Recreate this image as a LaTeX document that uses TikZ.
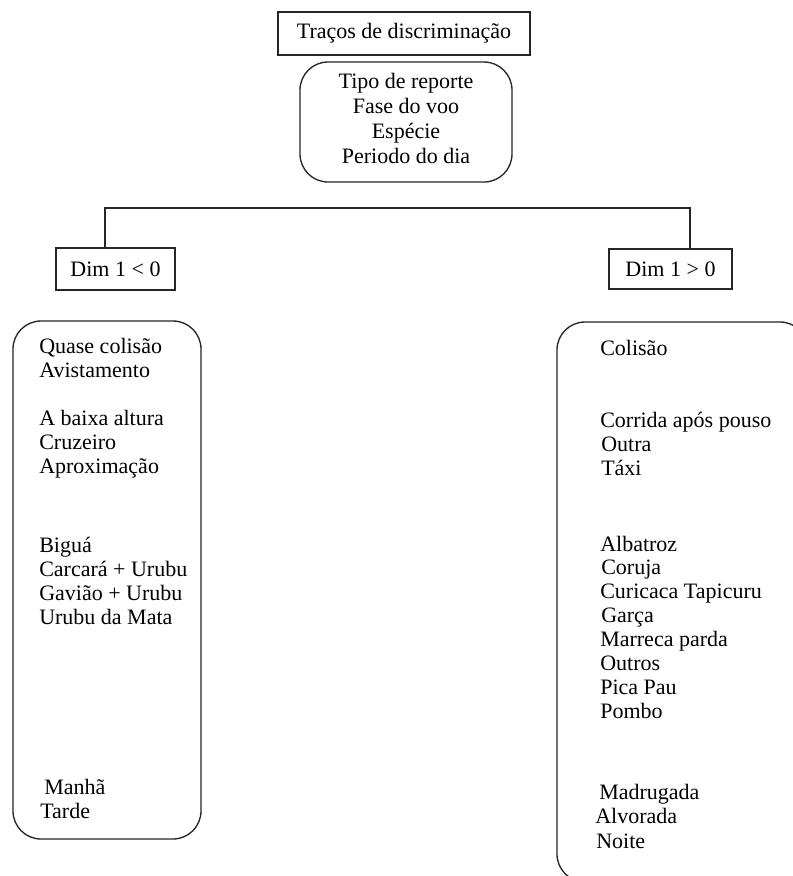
\documentclass[tikz,border=0pt]{standalone}
\usepackage{fontspec}
\setmainfont{Liberation Serif}
\begin{document}
\begin{tikzpicture}[x=0.75pt,y=-0.75pt,
  every node/.style={font=\fontsize{16.5}{18}\selectfont},
  frame/.style={draw=black!85,line width=1pt,rectangle,inner sep=0pt},
  rbox/.style={draw=black!85,line width=1pt,rectangle,rounded corners=21pt,inner sep=0pt},
  lbl/.style={anchor=base west,inner sep=0pt},
  clbl/.style={anchor=base,inner sep=0pt},
  conn/.style={draw=black!85,line width=1pt}]
\useasboundingbox (0,0) rectangle (793,876);
\clip (0,0) rectangle (793,876);
\fill[white] (0,0) rectangle (793,876);

% title
\node[frame,minimum width=252*0.75pt,minimum height=43*0.75pt] (title) at (404,33.5) {Traços de discriminação};
% features box
\node[rbox,minimum width=212*0.75pt,minimum height=120*0.75pt] (feat) at (406,122) {};
\node[clbl] (f1) at (406,88) {Tipo de reporte};
\node[clbl] (f2) at (406,113) {Fase do voo};
\node[clbl] (f3) at (406,138) {Espécie};
\node[clbl] (f4) at (406,163) {Periodo do dia};

% dimension boxes
\node[frame,minimum width=119*0.75pt,minimum height=42*0.75pt] (dl) at (115.5,269) {Dim 1 < 0};
\node[frame,minimum width=123*0.75pt,minimum height=40*0.75pt] (dr) at (670.5,269) {Dim 1 > 0};
\coordinate (jl) at (105,208);
\coordinate (jr) at (690,208);
\draw[conn] (dl.north -| jl) -- (jl) -- (jr) -- (dr.north -| jr);

% left box
\node[rbox,minimum width=188*0.75pt,minimum height=518*0.75pt] (lbox) at (107,580) {};
\node[lbl] (l1) at (39,353) {Quase colisão};
\node[lbl] (l2) at (39,377) {Avistamento};
\node[lbl] (l3) at (39,425) {A baixa altura};
\node[lbl] (l4) at (39,449) {Cruzeiro};
\node[lbl] (l5) at (39,473) {Aproximação};
\node[lbl] (l6) at (39,552) {Biguá};
\node[lbl] (l7) at (39,576) {Carcará + Urubu};
\node[lbl] (l8) at (39,600) {Gavião + Urubu};
\node[lbl] (l9) at (39,624) {Urubu da Mata};
\node[lbl] (l10) at (44,794) {Manhã};
\node[lbl] (l11) at (40,818) {Tarde};

% right box
\node[rbox,minimum width=251*0.75pt,minimum height=560*0.75pt] (rbox) at (682.5,602) {};
\node[lbl] (r1) at (600,355) {Colisão};
\node[lbl] (r2) at (600,427) {Corrida após pouso};
\node[lbl] (r3) at (601,451) {Outra};
\node[lbl] (r4) at (601,475) {Táxi};
\node[lbl] (r5) at (600,551) {Albatroz};
\node[lbl] (r6) at (601,574) {Coruja};
\node[lbl] (r7) at (600,598) {Curicaca Tapicuru};
\node[lbl] (r8) at (601,622) {Garça};
\node[lbl] (r9) at (600,646) {Marreca parda};
\node[lbl] (r10) at (600,670) {Outros};
\node[lbl] (r11) at (600,694) {Pica Pau};
\node[lbl] (r12) at (600,718) {Pombo};
\node[lbl] (r13) at (599,799) {Madrugada};
\node[lbl] (r14) at (595,823) {Alvorada};
\node[lbl] (r15) at (596,848) {Noite};
\end{tikzpicture}
\end{document}
